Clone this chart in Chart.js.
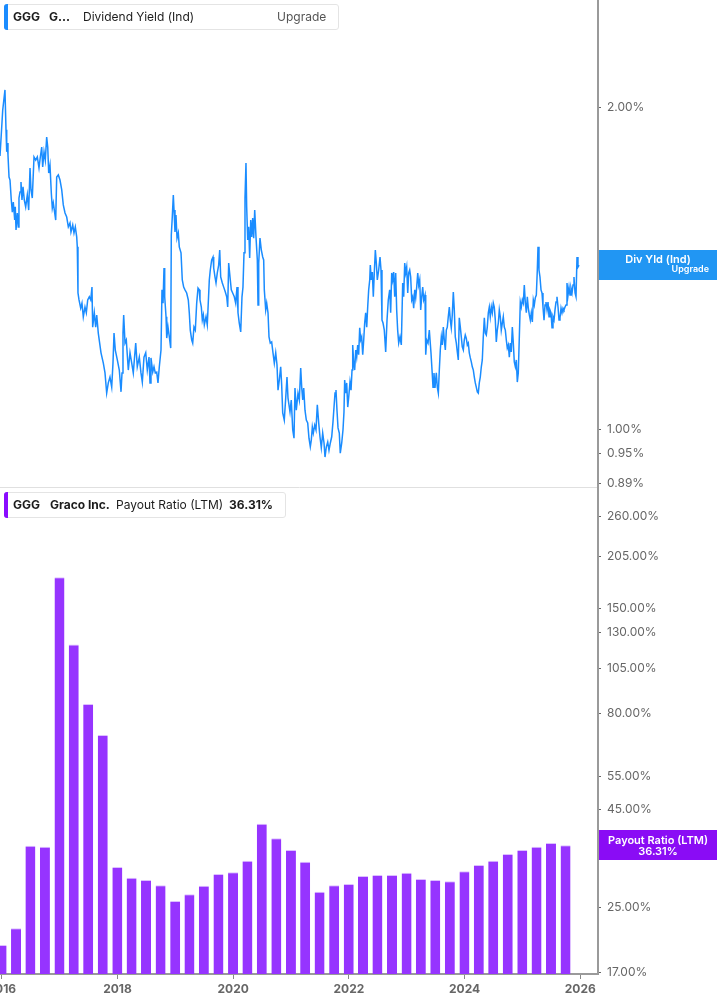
<!DOCTYPE html>
<html>
<head>
<meta charset="utf-8">
<script src="https://cdn.jsdelivr.net/npm/chart.js@4.4.1/dist/chart.umd.min.js"></script>
<style>
  body { margin: 0; background: #fff; }
  #page { position: relative; width: 717px; height: 1005px; overflow: hidden; font-family: Inter, "Noto Sans", sans-serif; }
  canvas { position: absolute; left: 0; }
  .legend { position: absolute; left: 4px; height: 24px; background: #fff; border: 1px solid #e4e4e4; border-radius: 3px; box-sizing: content-box; }
  .legend span { position: absolute; top: 0; line-height: 24px; font-size: 12px; color: #1c1c1c; white-space: nowrap; }
  .legend .b { font-weight: 700; }
  .legend .accent { position: absolute; left: -1px; top: -1px; bottom: -1px; width: 4px; border-radius: 3px 0 0 3px; }
</style>
</head>
<body>
<div id="page">
  <canvas id="yield-chart" width="717" height="488" style="top:0"></canvas>
  <canvas id="payout-chart" width="717" height="517" style="top:488px"></canvas>

  <div class="legend" style="top:4px;width:333px">
    <div class="accent" style="background:#1a8cff"></div>
    <span class="b" style="left:8px">GGG</span>
    <span class="b" style="left:44px">G…</span>
    <span style="left:78px">Dividend Yield (Ind)</span>
    <span style="left:272px;color:#555">Upgrade</span>
  </div>
  <div class="legend" style="top:492px;width:280px">
    <div class="accent" style="background:#8a0cff"></div>
    <span class="b" style="left:8px">GGG</span>
    <span class="b" style="left:45px">Graco Inc.</span>
    <span style="left:111px">Payout Ratio (LTM)</span>
    <span class="b" style="left:224px">36.31%</span>
  </div>
</div>

<script>
// shared time axis (decimal years)
const xMin = 2015.969;
const xMax = 2026.306;
const yearTicks = [2016, 2018, 2020, 2022, 2024, 2026];

// dividend yield (ind), %
const yieldTicks = [0.89, 0.95, 1.00, 2.00];
const yieldDates = [
  2015.969, 2016.016, 2016.055, 2016.073, 2016.085, 2016.095, 2016.107, 2016.125, 2016.142, 2016.164,
  2016.182, 2016.199, 2016.223, 2016.233, 2016.246, 2016.268, 2016.285, 2016.297, 2016.315, 2016.332,
  2016.349, 2016.367, 2016.389, 2016.413, 2016.441, 2016.465, 2016.488, 2016.505, 2016.527, 2016.557,
  2016.586, 2016.614, 2016.643, 2016.666, 2016.690, 2016.707, 2016.730, 2016.752, 2016.776, 2016.794,
  2016.811, 2016.833, 2016.856, 2016.873, 2016.890, 2016.908, 2016.932, 2016.949, 2016.977, 2017.006,
  2017.036, 2017.063, 2017.093, 2017.122, 2017.150, 2017.179, 2017.196, 2017.226, 2017.248, 2017.271,
  2017.295, 2017.305, 2017.317, 2017.335, 2017.364, 2017.386, 2017.409, 2017.438, 2017.461, 2017.485,
  2017.513, 2017.537, 2017.559, 2017.571, 2017.599, 2017.623, 2017.641, 2017.668, 2017.715, 2017.755,
  2017.784, 2017.813, 2017.841, 2017.870, 2017.900, 2017.922, 2017.940, 2017.962, 2017.997, 2018.031,
  2018.061, 2018.078, 2018.095, 2018.107, 2018.130, 2018.152, 2018.187, 2018.216, 2018.246, 2018.273,
  2018.315, 2018.342, 2018.377, 2018.406, 2018.429, 2018.458, 2018.488, 2018.515, 2018.545,
  2018.562, 2018.579, 2018.609, 2018.631, 2018.653, 2018.678, 2018.700, 2018.723, 2018.752, 2018.769,
  2018.787, 2018.804, 2018.816, 2018.839, 2018.851, 2018.873, 2018.896, 2018.920, 2018.930, 2018.947,
  2018.965, 2018.977, 2018.994, 2019.011, 2019.029, 2019.051, 2019.068, 2019.098, 2019.120, 2019.144,
  2019.167, 2019.196, 2019.224, 2019.241, 2019.258, 2019.283, 2019.300, 2019.322, 2019.345, 2019.369,
  2019.392, 2019.414, 2019.426, 2019.449, 2019.466, 2019.484, 2019.501, 2019.530, 2019.552, 2019.570,
  2019.587, 2019.604, 2019.628, 2019.651, 2019.663, 2019.685, 2019.703, 2019.725, 2019.749, 2019.767,
  2019.784, 2019.812, 2019.836, 2019.864, 2019.888, 2019.905, 2019.922, 2019.945, 2019.967, 2019.991,
  2020.019, 2020.043, 2020.066, 2020.083, 2020.105, 2020.130, 2020.152, 2020.169, 2020.187, 2020.204,
  2020.221, 2020.233, 2020.251, 2020.268, 2020.285, 2020.303, 2020.320, 2020.337, 2020.354, 2020.372,
  2020.394, 2020.417, 2020.429, 2020.441, 2020.463, 2020.486, 2020.510, 2020.527, 2020.538, 2020.562,
  2020.579, 2020.602, 2020.619, 2020.641, 2020.665, 2020.688, 2020.711, 2020.735, 2020.757, 2020.775,
  2020.797, 2020.821, 2020.838, 2020.856, 2020.883, 2020.908, 2020.930, 2020.947,
  2020.982, 2021.004, 2021.029, 2021.051, 2021.068, 2021.091, 2021.120, 2021.143, 2021.167, 2021.184,
  2021.202, 2021.219, 2021.241, 2021.264, 2021.288, 2021.310, 2021.333, 2021.350, 2021.368, 2021.385,
  2021.409, 2021.431, 2021.454, 2021.478, 2021.500, 2021.523, 2021.547, 2021.570, 2021.587, 2021.610,
  2021.634, 2021.656, 2021.679, 2021.703, 2021.725, 2021.743, 2021.760, 2021.777, 2021.794, 2021.812,
  2021.834, 2021.851, 2021.876, 2021.898, 2021.915, 2021.927, 2021.945, 2021.962, 2021.980, 2021.997,
  2022.019, 2022.037, 2022.054, 2022.066, 2022.083, 2022.100, 2022.118, 2022.135, 2022.152, 2022.169,
  2022.187, 2022.204, 2022.221, 2022.239, 2022.256, 2022.273, 2022.290, 2022.308, 2022.325, 2022.342,
  2022.360, 2022.370, 2022.387, 2022.405, 2022.422, 2022.439, 2022.457, 2022.474, 2022.491, 2022.515,
  2022.538, 2022.555, 2022.572, 2022.590, 2022.612, 2022.636, 2022.659, 2022.681, 2022.705, 2022.722,
  2022.740, 2022.757, 2022.774, 2022.792, 2022.809, 2022.826, 2022.843, 2022.861, 2022.883, 2022.906,
  2022.930, 2022.947, 2022.965, 2022.982, 2022.999, 2023.017, 2023.034, 2023.051, 2023.068, 2023.086,
  2023.103, 2023.120, 2023.138, 2023.155, 2023.172, 2023.190, 2023.207, 2023.224, 2023.241, 2023.259,
  2023.276, 2023.293, 2023.316, 2023.328, 2023.345, 2023.368, 2023.390,
  2023.419, 2023.437, 2023.454, 2023.471, 2023.488, 2023.511, 2023.528, 2023.546, 2023.563, 2023.580,
  2023.598, 2023.615, 2023.632, 2023.649, 2023.667, 2023.684, 2023.701, 2023.718, 2023.736, 2023.753,
  2023.770, 2023.787, 2023.805, 2023.822, 2023.839, 2023.857, 2023.874, 2023.891, 2023.908, 2023.926,
  2023.943, 2023.960, 2023.978, 2023.995, 2024.012, 2024.029, 2024.047, 2024.064, 2024.081, 2024.099,
  2024.116, 2024.133, 2024.151, 2024.168, 2024.185, 2024.202, 2024.220, 2024.237, 2024.254, 2024.271,
  2024.289, 2024.306, 2024.323, 2024.341, 2024.358, 2024.375, 2024.392, 2024.410, 2024.427, 2024.444,
  2024.462, 2024.479, 2024.496, 2024.513, 2024.531, 2024.548, 2024.565, 2024.583, 2024.600, 2024.617,
  2024.634, 2024.652, 2024.669, 2024.686, 2024.704, 2024.721, 2024.738, 2024.756, 2024.773, 2024.790,
  2024.807, 2024.825, 2024.842, 2024.859, 2024.877, 2024.894, 2024.911, 2024.928, 2024.946, 2024.963,
  2024.980, 2024.998, 2025.015, 2025.032, 2025.050, 2025.067, 2025.084, 2025.101, 2025.119, 2025.136,
  2025.153, 2025.171, 2025.188, 2025.205, 2025.222, 2025.240, 2025.257, 2025.269, 2025.286, 2025.303,
  2025.321, 2025.338, 2025.355, 2025.373, 2025.390, 2025.407, 2025.425, 2025.442, 2025.459, 2025.476,
  2025.494, 2025.511, 2025.528, 2025.546, 2025.563, 2025.580, 2025.597, 2025.615, 2025.632, 2025.649,
  2025.667, 2025.684, 2025.701, 2025.718, 2025.736, 2025.753, 2025.770, 2025.788, 2025.805, 2025.822,
  2025.839, 2025.857, 2025.874, 2025.891, 2025.909, 2025.926, 2025.943, 2025.960, 2025.978
];
const divYield = [
  1.801, 1.988, 2.076, 1.905, 1.817, 1.852, 1.805, 1.721, 1.710, 1.638,
  1.596, 1.631, 1.569, 1.614, 1.536, 1.593, 1.546, 1.645, 1.667, 1.703,
  1.638, 1.685, 1.638, 1.614, 1.656, 1.603, 1.755, 1.674, 1.645, 1.797,
  1.785, 1.797, 1.755, 1.797, 1.836, 1.759, 1.817, 1.785, 1.876, 1.836,
  1.736, 1.766, 1.663, 1.610, 1.628, 1.603, 1.569, 1.721, 1.729, 1.710,
  1.674, 1.621, 1.593, 1.579, 1.546, 1.559, 1.529, 1.552, 1.526, 1.546,
  1.513, 1.481, 1.341, 1.321, 1.298, 1.312, 1.274, 1.301, 1.285, 1.321,
  1.330, 1.321, 1.358, 1.246, 1.285, 1.246, 1.279, 1.230, 1.179, 1.153,
  1.129, 1.081, 1.105, 1.119, 1.095, 1.153, 1.230, 1.186, 1.161, 1.136,
  1.084, 1.129, 1.230, 1.279, 1.204, 1.212, 1.136, 1.179, 1.153, 1.129,
  1.204, 1.144, 1.168, 1.129, 1.107, 1.168, 1.179, 1.136, 1.168,
  1.105, 1.166, 1.131, 1.144, 1.129, 1.131, 1.105, 1.144, 1.186, 1.350,
  1.312, 1.415, 1.330, 1.274, 1.217, 1.246, 1.220, 1.191, 1.519, 1.579,
  1.656, 1.603, 1.529, 1.586, 1.509, 1.526, 1.481, 1.462, 1.379, 1.358,
  1.350, 1.341, 1.321, 1.285, 1.238, 1.212, 1.204, 1.246, 1.238, 1.312,
  1.355, 1.350, 1.321, 1.301, 1.265, 1.279, 1.252, 1.274, 1.252, 1.315,
  1.379, 1.409, 1.440, 1.449, 1.415, 1.388, 1.370, 1.400, 1.424, 1.471,
  1.388, 1.370, 1.358, 1.344, 1.330, 1.301, 1.430, 1.388, 1.350, 1.341,
  1.330, 1.312, 1.358, 1.285, 1.257, 1.233, 1.330, 1.358, 1.462, 1.645,
  1.774, 1.614, 1.503, 1.546, 1.446, 1.569, 1.513, 1.576, 1.509, 1.603,
  1.513, 1.440, 1.307, 1.430, 1.509, 1.471, 1.449, 1.440, 1.350, 1.293,
  1.312, 1.285, 1.220, 1.204, 1.207, 1.179, 1.153, 1.179, 1.149, 1.088,
  1.112, 1.144, 1.100, 1.036, 1.020, 1.070, 1.119, 1.070,
  1.038, 1.065, 0.999, 0.981, 1.093, 1.042, 1.081, 1.065, 1.141, 1.095,
  1.065, 1.093, 1.042, 1.020, 1.014, 0.981, 0.963, 0.977, 1.005, 0.992,
  1.009, 0.999, 1.054, 1.014, 0.984, 0.961, 0.992, 0.971, 0.942, 0.963,
  0.973, 0.956, 0.971, 0.984, 1.016, 1.049, 1.081, 1.088, 1.042, 1.003,
  0.992, 0.950, 0.971, 0.999, 1.038, 1.112, 1.081, 1.105, 1.049, 1.072,
  1.107, 1.088, 1.136, 1.199, 1.153, 1.136, 1.186, 1.168, 1.199, 1.174,
  1.244, 1.212, 1.220, 1.174, 1.212, 1.257, 1.285, 1.246, 1.301, 1.350,
  1.379, 1.424, 1.379, 1.403, 1.330, 1.400, 1.471, 1.430, 1.379, 1.409,
  1.449, 1.409, 1.265, 1.257, 1.238, 1.181, 1.265, 1.321, 1.350, 1.285,
  1.400, 1.379, 1.403, 1.330, 1.400, 1.293, 1.238, 1.204, 1.220, 1.199,
  1.370, 1.330, 1.430, 1.400, 1.418, 1.341, 1.400, 1.409, 1.388, 1.321,
  1.330, 1.298, 1.350, 1.327, 1.358, 1.400, 1.364, 1.379, 1.293, 1.330,
  1.358, 1.321, 1.335, 1.174, 1.212, 1.204, 1.238,
  1.179, 1.136, 1.095, 1.129, 1.093, 1.129, 1.095, 1.081, 1.136, 1.186,
  1.220, 1.199, 1.246, 1.212, 1.186, 1.238, 1.246, 1.274, 1.301, 1.265,
  1.244, 1.279, 1.344, 1.293, 1.220, 1.204, 1.181, 1.161, 1.271, 1.246,
  1.220, 1.194, 1.186, 1.212, 1.225, 1.217, 1.199, 1.204, 1.179, 1.166,
  1.156, 1.144, 1.136, 1.119, 1.105, 1.095, 1.084, 1.081, 1.105, 1.119,
  1.144, 1.161, 1.220, 1.271, 1.230, 1.225, 1.246, 1.285, 1.301, 1.274,
  1.301, 1.285, 1.312, 1.301, 1.265, 1.207, 1.238, 1.257, 1.293, 1.274,
  1.238, 1.257, 1.274, 1.246, 1.238, 1.212, 1.191, 1.199, 1.168, 1.204,
  1.181, 1.246, 1.204, 1.156, 1.144, 1.161, 1.107, 1.129, 1.220, 1.315,
  1.301, 1.321, 1.312, 1.364, 1.312, 1.285, 1.330, 1.298, 1.279, 1.265,
  1.285, 1.260, 1.321, 1.307, 1.327, 1.335, 1.409, 1.481, 1.409, 1.388,
  1.350, 1.341, 1.301, 1.265, 1.307, 1.315, 1.293, 1.315, 1.274, 1.293,
  1.285, 1.244, 1.274, 1.265, 1.293, 1.315, 1.330, 1.301, 1.265, 1.271,
  1.298, 1.285, 1.298, 1.293, 1.301, 1.307, 1.370, 1.335, 1.358, 1.335,
  1.355, 1.341, 1.364, 1.388, 1.341, 1.330, 1.449, 1.418, 1.424
];

// payout ratio (LTM), %, quarterly
const payoutTicks = [17, 25, 45, 55, 80, 105, 130, 150, 205, 260];
const payoutQuarters = [
  '2015-12-31', '2016-03-31', '2016-06-30', '2016-09-30', '2016-12-31', '2017-03-31', '2017-06-30', '2017-09-30',
  '2017-12-31', '2018-03-31', '2018-06-30', '2018-09-30', '2018-12-31', '2019-03-31', '2019-06-30', '2019-09-30',
  '2019-12-31', '2020-03-31', '2020-06-30', '2020-09-30', '2020-12-31', '2021-03-31', '2021-06-30', '2021-09-30',
  '2021-12-31', '2022-03-31', '2022-06-30', '2022-09-30', '2022-12-31', '2023-03-31', '2023-06-30', '2023-09-30',
  '2023-12-31', '2024-03-31', '2024-06-30', '2024-09-30', '2024-12-31', '2025-03-31', '2025-06-30', '2025-09-30'
];
const payoutRatio = [
  20.0, 22.1, 36.2, 36.0, 181, 121, 84.7, 70.3,
  31.9, 29.9, 29.5, 28.6, 26.0, 27.1, 28.5, 30.6,
  30.9, 33.1, 41.3, 37.9, 35.3, 32.9, 27.5, 28.6,
  28.8, 30.2, 30.4, 30.4, 30.8, 29.7, 29.5, 29.3,
  31.1, 32.3, 33.1, 34.5, 35.3, 36.0, 36.8, 36.31
];

function toYear(s) {
    const d = new Date(s + 'T00:00:00Z');
    const y = d.getUTCFullYear();
    const start = Date.UTC(y, 0, 1);
    const end = Date.UTC(y + 1, 0, 1);
    return y + (d.getTime() - start) / (end - start);
}

Chart.defaults.font.family = 'Inter, "Noto Sans", sans-serif';
Chart.defaults.font.size = 12;
Chart.defaults.color = '#666';

const valueTag = {
    id: 'valueTag',
    afterDraw(chart, args, opts) {
        const ctx = chart.ctx;
        const area = chart.chartArea;
        const y = chart.scales.y.getPixelForValue(opts.value);
        const left = area.right + 1;
        ctx.save();
        ctx.fillStyle = opts.color;
        ctx.fillRect(left, Math.round(y - 15), chart.width - left, 30);
        ctx.fillStyle = '#fff';
        ctx.textBaseline = 'middle';
        ctx.textAlign = 'center';
        ctx.font = '600 11px Inter, "Noto Sans", sans-serif';
        ctx.fillText(opts.title, 658, y - 5);
        if (opts.sub) {
            ctx.font = opts.subFont;
            ctx.textAlign = opts.subAlign;
            ctx.fillText(opts.sub, opts.subX, y + opts.subDy);
        }
        ctx.restore();
    }
};

// pin the plot box: y axis 119px wide on the right, no label overhang padding
function fixY(scale) {
    scale.width = 119;
    scale.paddingTop = 0;
    scale.paddingBottom = 0;
}

function initYieldChart() {
    const ctx = document.getElementById('yield-chart').getContext('2d');
    new Chart(ctx, {
        type: 'line',
        data: {
            datasets: [{
                label: 'Dividend Yield (Ind)',
                data: yieldDates.map((d, i) => ({ x: d, y: divYield[i] })),
                borderColor: '#1a8cff',
                borderWidth: 1.5,
                pointRadius: 0,
                tension: 0
            }]
        },
        plugins: [valueTag],
        options: {
            responsive: false,
            animation: false,
            layout: { padding: 0 },
            plugins: {
                legend: { display: false },
                tooltip: { enabled: false },
                valueTag: {
                    value: divYield[divYield.length - 1],
                    color: '#2196f3',
                    title: 'Div Yld (Ind)',
                    sub: 'Upgrade',
                    subFont: '600 9px Inter, "Noto Sans", sans-serif',
                    subAlign: 'right',
                    subX: 709,
                    subDy: 4
                }
            },
            scales: {
                x: {
                    type: 'linear',
                    min: xMin,
                    max: xMax,
                    offset: false,
                    ticks: { display: false },
                    grid: { display: false },
                    border: { display: true, color: '#e0e0e0', width: 1 },
                    afterFit: s => { s.height = 1; s.paddingLeft = 0; s.paddingRight = 0; }
                },
                y: {
                    type: 'logarithmic',
                    position: 'right',
                    min: 0.8832,
                    max: 2.5194,
                    afterBuildTicks: s => { s.ticks = yieldTicks.map(v => ({ value: v })); },
                    ticks: {
                        autoSkip: false,
                        padding: 6,
                        color: '#666',
                        callback: v => Number(v).toFixed(2) + '%'
                    },
                    grid: { drawOnChartArea: false, tickLength: 3, color: '#666' },
                    border: { color: '#9a9a9a', width: 2 },
                    afterFit: fixY
                }
            }
        }
    });
}

function initPayoutChart() {
    const ctx = document.getElementById('payout-chart').getContext('2d');
    new Chart(ctx, {
        type: 'bar',
        data: {
            datasets: [{
                label: 'Payout Ratio (LTM)',
                data: payoutQuarters.map((q, i) => ({ x: toYear(q), y: payoutRatio[i] })),
                backgroundColor: '#9634ff',
                borderColor: '#dcc0ff',
                borderWidth: { top: 1, right: 0, bottom: 0, left: 0 },
                borderSkipped: false,
                barPercentage: 0.7,
                categoryPercentage: 1
            }]
        },
        plugins: [valueTag],
        options: {
            responsive: false,
            animation: false,
            layout: { padding: 0 },
            plugins: {
                legend: { display: false },
                tooltip: { enabled: false },
                valueTag: {
                    value: payoutRatio[payoutRatio.length - 1],
                    color: '#8a0cf5',
                    title: 'Payout Ratio (LTM)',
                    sub: payoutRatio[payoutRatio.length - 1].toFixed(2) + '%',
                    subFont: '600 11px Inter, "Noto Sans", sans-serif',
                    subAlign: 'center',
                    subX: 658,
                    subDy: 6
                }
            },
            scales: {
                x: {
                    type: 'linear',
                    min: xMin,
                    max: xMax,
                    offset: false,
                    afterBuildTicks: s => { s.ticks = yearTicks.map(v => ({ value: v })); },
                    ticks: {
                        autoSkip: false,
                        maxRotation: 0,
                        padding: 3,
                        color: '#666',
                        font: { weight: 'bold', size: 12 },
                        callback: v => String(v)
                    },
                    grid: { offset: false, drawOnChartArea: false, tickLength: 5, color: '#888' },
                    border: { color: '#9a9a9a', width: 2 },
                    afterFit: s => { s.height = 31; s.paddingLeft = 0; s.paddingRight = 0; }
                },
                y: {
                    type: 'logarithmic',
                    position: 'right',
                    min: 16.80,
                    max: 308.9,
                    afterBuildTicks: s => { s.ticks = payoutTicks.map(v => ({ value: v })); },
                    ticks: {
                        autoSkip: false,
                        padding: 6,
                        color: '#666',
                        callback: v => Number(v).toFixed(2) + '%'
                    },
                    grid: { drawOnChartArea: false, tickLength: 3, color: '#666' },
                    border: { color: '#9a9a9a', width: 2 },
                    afterFit: fixY
                }
            }
        }
    });
}

initYieldChart();
initPayoutChart();
</script>
</body>
</html>
